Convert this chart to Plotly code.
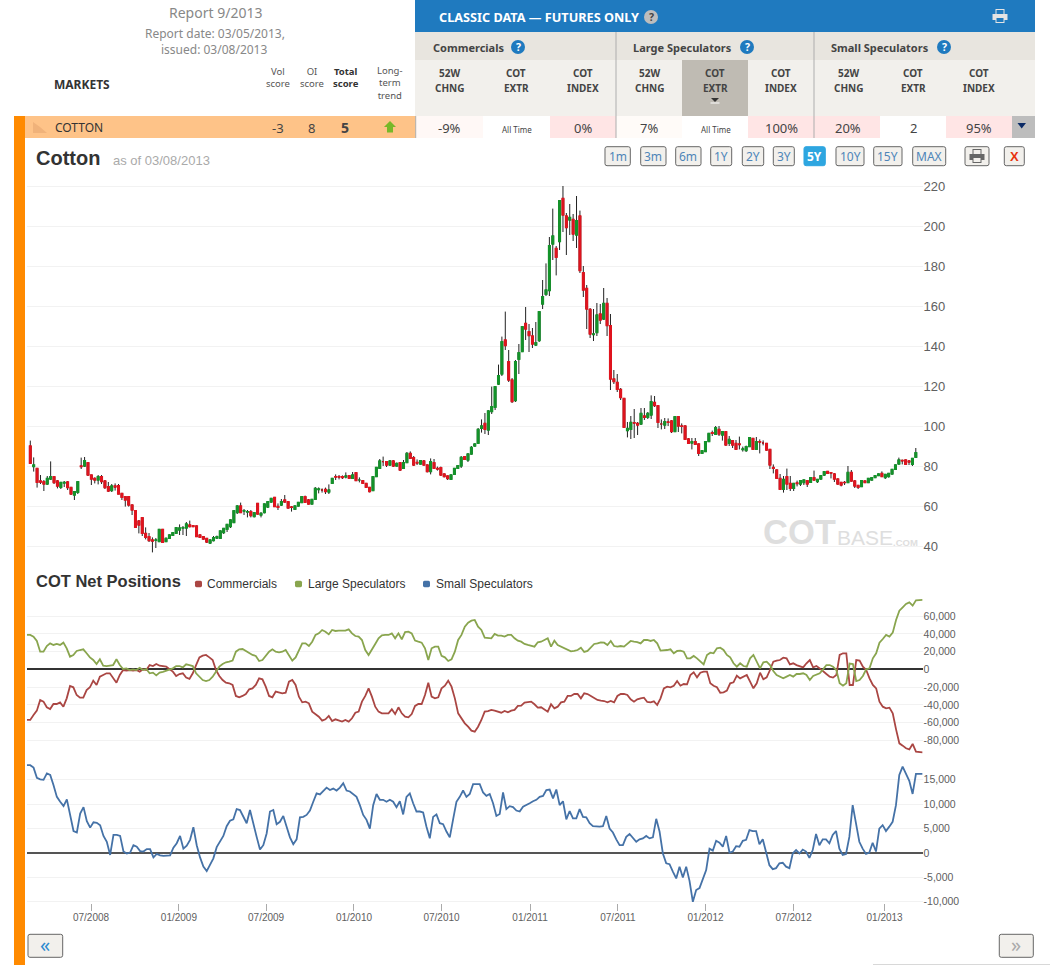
import numpy as np
import plotly.graph_objects as go

W, H = 1050, 965

# weekly price candles (week 0 is the first candle)
OPEN = [90, 79.7, 78.8, 72.5, 72.2, 71, 73.5, 74.7, 72.5, 69.3, 71.5, 72, 69.3, 65.5, 66.8, 80, 80, 81.7, 75.5, 73.8,
        73, 74.7, 72.5, 69.7, 67.7, 70, 70.2, 66.3, 64.7, 64.7, 60.5, 57.7, 52.5, 54.2, 46.3, 44.7, 43, 42.8, 42.2, 48.3,
        42.2, 43.8, 45.3, 46.3, 48, 49, 49, 50.5, 50.2, 50, 45.5, 44.7, 43.8, 41.5, 42.7, 44, 43.8, 46.7, 48.3, 49.7,
        51.7, 56.7, 60, 57.5, 57, 57.2, 54.7, 61.3, 55.5, 56.7, 59.5, 62, 64.3, 59.8, 60.5, 63, 62.2, 59.5, 58.3, 60,
        61.7, 64.7, 63, 61, 63.3, 68.2, 68, 68.3, 67, 71.3, 74.7, 74.7, 74.6, 74.5, 75.2, 73.8, 76.7, 73, 72.7, 71.3,
        69.3, 67.7, 74.7, 78.8, 82.2, 82.2, 80.5, 82.5, 80, 81.7, 78.8, 81.7, 86.3, 84.2, 81.8, 81, 82.5, 80.5, 77.2, 81.7,
        78.8, 79.2, 76, 75, 73.3, 75.8, 78.8, 80, 84.7, 83, 86, 90, 91.3, 98.8, 101.3, 98, 107.2, 109.3, 121, 126,
        143, 132.2, 123, 112.7, 133.3, 137.2, 151.3, 147.2, 145, 140.5, 142.7, 161, 165.8, 167.7, 191, 188.8, 192.2, 213.8, 205, 203,
        203.3, 195.5, 205, 176.7, 168.8, 158.3, 145.7, 146.7, 156, 153.5, 161.3, 150.2, 123.5, 121.8, 118.3, 113.8, 97.7, 98.3, 101.7, 101.3,
        101, 105, 104.3, 105.5, 111.8, 110.2, 101, 100.5, 102, 102.5, 97.2, 104.7, 100, 100, 93.5, 91.5, 92.2, 91, 86.3, 87.2,
        92.2, 96.7, 95.8, 98.3, 95.5, 97.2, 91.3, 92.7, 91.3, 91, 88.2, 87.7, 89.7, 93.8, 88.3, 92.2, 91.5, 91.3, 88.3, 79.3,
        78, 73.8, 68.3, 74.7, 71.3, 68.8, 71.5, 71, 71.7, 72.7, 71.8, 74.2, 72.2, 73.5, 75.5, 77.3, 76.7, 76, 73.5, 71.8,
        71.8, 71.7, 76.8, 72.5, 70.3, 69.7, 72.5, 71.7, 73, 74.2, 75.2, 76.3, 74.2, 74.7, 76, 78.3, 81, 82.8, 83, 82.5,
        80.8, 84.3]
HIGH = [92.7, 84.3, 79, 75.5, 73, 75, 82.3, 75, 73, 72, 72.5, 72.5, 69.5, 67.5, 72.5, 84.2, 84.5, 82, 75.5, 74.3,
        75.5, 75.5, 73, 72, 71, 71.3, 71, 66.5, 65, 65, 60.7, 58, 53, 54.5, 49.3, 46.5, 44.3, 44, 48.5, 48.5,
        44.3, 45.8, 47, 49.5, 50.8, 50, 52, 52.7, 50.5, 50.2, 45.8, 45, 44, 43.3, 45, 45.2, 47.8, 49, 51, 53.3,
        58, 60.3, 61.7, 58.5, 58, 58, 57, 61.5, 57, 61.2, 62.5, 64, 64.5, 61.3, 63.5, 65.5, 62.5, 60, 60.2, 62,
        65, 65.2, 63.5, 63.5, 69.5, 69.3, 68.8, 69.2, 70.8, 74, 75.8, 75.5, 75.3, 76.8, 75.5, 77, 77, 74.3, 73, 71.5,
        69.5, 75, 79.5, 83.5, 84.7, 82.5, 83, 83, 81.7, 82, 83, 87, 87.3, 85, 83.3, 83, 83, 80.7, 83.8, 83.5,
        79.7, 79.7, 76.2, 75.2, 75.8, 79, 80.5, 85, 85, 86.3, 90, 91.3, 99, 103.3, 106.5, 108, 119.7, 120, 130.7, 144.7,
        157.2, 138, 124, 133, 141, 150, 159.5, 151, 149, 152, 157.5, 173, 181.3, 194.5, 208.7, 190, 213, 220, 206.5, 211,
        206, 215, 207.7, 180, 170.5, 159, 158.5, 161.5, 161, 169, 164, 156, 128, 126, 119, 114, 102, 105, 108.5, 102,
        109, 109, 107, 115.3, 115, 110.5, 103.3, 104, 103.8, 103, 105, 105, 101.3, 100.3, 94, 94, 94, 91.2, 87.9, 92.4,
        96.5, 97.7, 100, 100, 97.5, 97.5, 95, 93, 93, 94.7, 89.7, 90.2, 94.5, 94, 94.5, 93.3, 92.8, 91.5, 88.5, 80.8,
        78.2, 76, 75, 78.7, 75, 71.5, 72.7, 72.9, 73.2, 73, 74.4, 77.7, 73.5, 75.4, 77.4, 77.5, 77, 76.5, 73.7, 72,
        72.5, 80, 78, 73, 70.5, 72.9, 72.7, 74, 74.4, 75.4, 76.2, 77.3, 76, 76.5, 78.5, 80.7, 84.2, 83.2, 83.2, 83,
        84, 89]
LOW = [81, 77.2, 69.2, 71, 67.5, 70.5, 73, 71, 68.8, 68.5, 69.5, 68, 65.5, 63, 66, 78.5, 79.5, 75, 70.5, 71.3,
       70.8, 71, 68.5, 67, 67, 67.7, 66, 63, 59.7, 59.7, 55.5, 49, 46.3, 45, 43.3, 42, 36.8, 39, 42, 41.5,
       42, 43.5, 45, 46, 45.5, 45.5, 45, 49.3, 49.5, 44.5, 44, 43.2, 41.5, 41, 42.3, 43.5, 43.5, 46, 47, 49,
       51.5, 56, 56.5, 55.5, 54.3, 54.3, 54.3, 55.8, 54.3, 56.3, 59, 61.7, 59.5, 58, 60, 61.7, 58.8, 57.2, 58, 59.8,
       61.5, 61.5, 60.8, 60.8, 63, 66.3, 66.7, 66, 66, 71, 73, 73.3, 73.5, 73.8, 73.5, 73.5, 72.5, 71.8, 71, 69,
       66.8, 67.5, 74.5, 78.5, 80, 79.5, 80, 79.5, 79.8, 77.5, 78.5, 81.5, 83.5, 80, 80.5, 80.8, 80.3, 76.8, 75.8, 78.5,
       77.7, 75, 74.3, 73, 73, 75.5, 78.5, 79, 83, 82, 85.7, 89.7, 91, 96.7, 96, 95.5, 106, 108, 120.5, 125,
       138, 122, 111.5, 112, 126, 137, 143, 137, 139, 140, 142, 158.5, 165, 165, 183, 175.3, 188, 197, 185.5, 195.5,
       192.5, 189, 176.5, 164.5, 148.5, 144, 142.5, 145, 151, 153, 145, 118, 121, 117, 113, 99, 94.3, 93.5, 94, 95.5,
       100.5, 103, 103.5, 103.5, 109.5, 99, 98.3, 98.5, 100, 96.5, 97, 97, 96.3, 93, 91, 88.3, 90.5, 85, 86, 87,
       92, 95, 95.5, 95, 92.7, 90.2, 90, 89, 88, 88.3, 87.2, 87, 89.5, 88, 88, 86.3, 90.3, 87.7, 78.5, 76.3,
       73.5, 68, 66.7, 68, 67.5, 67.5, 69.8, 70, 70.5, 69.5, 71.5, 72.7, 71.5, 73.2, 75, 76, 73.8, 72, 70.7, 69.8,
       70.5, 71.5, 72.2, 69, 68.5, 69.5, 71.5, 71.5, 72.8, 74, 75, 74.5, 73.5, 74.2, 75.8, 78, 80.8, 80.8, 80.5, 80.5,
       80, 84]
CLOSE = [81.3, 80.5, 71.8, 72, 71, 73.8, 74.7, 71.7, 70, 71.8, 71.8, 69.2, 66, 67.2, 72.2, 79.7, 82.7, 75.5, 73.5, 73,
         74.7, 72.2, 69.2, 67.5, 70, 69.5, 66, 64.3, 63, 60.5, 58, 49.3, 50.5, 46.3, 44.3, 42.7, 42.5, 43, 48.3, 41.8,
         43.8, 45.5, 46.7, 49.2, 49, 49.2, 51, 49.7, 49.7, 44.7, 44.3, 43.5, 42, 43, 44.2, 44.7, 47.5, 48.8, 50.8, 53,
         57.7, 60, 56.7, 57.7, 57.2, 55.2, 56.7, 56, 56.3, 61, 62.2, 63.8, 59.7, 59.3, 62.2, 62, 59, 59.3, 60, 61.8,
         64.7, 61.8, 61, 63.3, 68.8, 68.5, 68, 67.2, 68, 73.8, 74.5, 74.5, 74.2, 75, 73.8, 75.5, 72.7, 73, 71.3, 69.3,
         67.2, 74.7, 79.3, 82.5, 82.2, 80.5, 82.5, 80, 81.3, 78, 81.7, 86.3, 83.8, 80.5, 81.5, 82.7, 80.5, 77.2, 82.2, 78.8,
         78.5, 75.5, 74.7, 73.7, 75.5, 78.8, 80.2, 84.3, 83.3, 86, 89.3, 91, 98.3, 100, 98.3, 107.5, 109.7, 119.7, 125.2, 142.2,
         140.2, 123, 112.2, 132.2, 136.7, 149.7, 148.5, 145.2, 141, 141.7, 157.2, 164.7, 168, 190.2, 195, 184.3, 212.7, 205.5, 199.2, 204.3,
         196, 202.7, 177.7, 168, 158.5, 146, 146, 155.5, 153, 161.3, 150.2, 123.5, 122.2, 118.3, 114.2, 99.3, 98.8, 101.8, 101.5, 100.5,
         106.3, 104.3, 106.3, 112.2, 110.2, 101.8, 101, 102.2, 101.8, 97.2, 104.7, 100, 99.8, 93.3, 91.3, 92.2, 90.8, 86.3, 87.7, 92.2,
         96.3, 96.3, 99.2, 96, 97.2, 90.5, 93.3, 90.5, 88.3, 90.7, 88.5, 89.7, 94.2, 88.3, 92.2, 92, 91.5, 88, 80.5, 78.8,
         73.8, 68.3, 73.3, 71, 68.8, 71.3, 71.2, 72.7, 73, 71, 74.2, 73, 73.3, 75.2, 77.2, 76.3, 76.5, 73.5, 71, 70.5,
         71.7, 76.8, 72.5, 70, 69.3, 72.7, 71.7, 73.8, 74.2, 75.2, 76, 74.7, 75.8, 76.3, 78.3, 80.5, 83, 82.6, 80.8, 82,
         83.8, 86.7]

COMMERCIALS = [-57.1, -57.1, -51.5, -46.6, -34.5, -36.4, -42.8, -44.7, -39.1, -39.1, -37.2, -42.1, -32.7, -18.7, -20.2, -28.9, -31.9, -31.9, -23.3, -20.2,
               -12.7, -17.6, -8.2, -6.3, -4.4, -4.4, -10.1, -15.0, -6.3, -0.7, -1.4, -0.7, -1.4, -0.7, -2.5, 0.1, -0.7, 4.9, 3.8, 6.1,
               4.2, 3.8, 3.1, 0.1, -2.5, -7.4, -5.2, -4.4, -9.3, -10.8, -4.4, 4.9, 13.6, 15.5, 16.3, 13.6, 10.6, -0.7, -7.4, -12.0,
               -15.0, -15.7, -17.6, -30.0, -31.5, -30.0, -27.8, -22.5, -21.4, -17.6, -10.1, -11.2, -19.5, -30.0, -31.5, -25.1, -25.9, -27.0, -26.3, -13.8,
               -12.0, -17.6, -30.8, -37.2, -36.4, -38.3, -47.7, -50.7, -53.4, -57.9, -56.4, -52.6, -58.3, -56.4, -57.9, -59.0, -57.1, -59.0, -55.2, -48.9,
               -47.7, -36.4, -30.0, -21.4, -30.8, -42.1, -47.7, -49.6, -49.6, -49.6, -45.1, -50.4, -42.8, -49.6, -53.4, -54.1, -50.4, -41.3, -39.1, -39.1,
               -28.9, -15.0, -30.8, -32.7, -31.5, -21.4, -18.4, -12.7, -19.5, -32.7, -49.6, -55.2, -60.9, -64.7, -69.2, -70.3, -64.7, -57.1, -47.7, -47.0,
               -45.8, -46.6, -47.7, -48.9, -47.0, -48.5, -46.6, -45.8, -41.3, -40.9, -37.6, -37.2, -36.4, -39.4, -43.2, -42.8,
               -45.1, -47.7, -39.4, -43.9, -42.1, -37.2, -36.4, -30.0, -30.0, -27.8, -27.8, -32.7, -27.0, -27.8, -30.0, -32.7, -34.5, -35.3, -35.7, -37.2,
               -35.7, -37.2, -30.0, -27.8, -27.8, -28.9, -33.8, -36.4, -33.8, -32.7, -31.9, -36.8, -37.2, -36.1, -40.2, -32.7, -21.4, -19.5, -20.2, -18.4,
               -13.1, -18.4, -16.5, -16.9, -6.3, -3.3, -9.0, -3.7, -2.5, -2.5, -15.7, -18.4, -20.2, -26.3, -25.9, -24.0, -15.7, -14.6, -7.1, -10.1,
               -8.2, -6.3, -13.8, -21.4, -15.7, -3.7, -11.2, -9.0, -0.7, 8.7, 9.9, 10.6, 13.2, 12.5, 5.7, 6.9, 4.9, 3.8, 2.3, 6.9,
               10.6, 2.3, 3.8, 1.2, -2.5, -5.2, -8.2, -9.3, -6.3, 16.3, 18.2, 18.2, -17.6, -17.6, 10.6, 9.9, 3.1, -0.7, -10.1, -17.6,
               -21.4, -36.4, -42.1, -43.9, -43.2, -49.6, -67.7, -83.5, -86.1, -89.1, -90.3, -84.2, -92.9, -93.6, -93.6]
LARGE_SPECS = [38.9, 38.9, 37.0, 32.1, 20.0, 20.0, 26.4, 29.4, 27.6, 28.7, 27.6, 30.2, 23.8, 14.4, 16.3, 20.8, 21.9, 22.7, 18.2, 13.6,
               10.6, 6.1, 11.4, 4.2, 3.8, 4.2, 4.9, 11.4, 4.9, 0.5, 1.2, -0.7, 0.1, -0.7, 1.9, -0.7, 0.5, -4.4, -3.7, -6.7,
               -3.7, -2.9, -1.8, 0.1, 1.2, 3.8, 3.8, 2.3, 5.7, 4.9, 3.8, -4.4, -8.2, -12.0, -13.1, -12.0, -8.2, -2.5, 3.1, 6.1,
               8.0, 8.7, 9.9, 20.0, 22.7, 23.0, 20.8, 18.2, 16.3, 15.2, 9.5, 10.6, 15.2, 20.0, 22.7, 20.0, 19.3, 20.0, 21.9, 16.3,
               9.9, 13.6, 21.9, 29.4, 29.4, 26.4, 31.3, 38.9, 40.7, 44.5, 42.6, 39.6, 44.5, 43.4, 43.7, 44.1, 43.7, 45.2, 40.7, 37.7,
               37.0, 33.2, 21.9, 16.3, 21.9, 28.7, 35.1, 38.5, 38.9, 38.9, 40.7, 35.1, 40.7, 34.0, 42.2, 42.6, 40.7, 32.5, 31.3, 30.2,
               23.8, 10.6, 23.8, 25.7, 25.7, 15.2, 13.6, 9.5, 11.4, 20.0, 33.2, 38.9, 48.3, 52.8, 55.0, 55.8, 48.3, 44.5, 35.8, 35.1,
               35.1, 40.0, 38.1, 38.1, 37.0, 38.9, 38.9, 35.1, 32.5, 31.3, 28.7, 27.6, 26.4, 25.7, 30.6, 31.3,
               33.2, 35.1, 25.7, 32.5, 27.6, 25.7, 23.8, 21.9, 20.4, 20.8, 21.9, 24.5, 19.7, 20.8, 24.9, 28.7, 29.4, 30.6, 30.2, 27.6,
               32.1, 26.4, 25.7, 26.4, 25.7, 28.7, 32.1, 31.3, 30.9, 29.4, 33.2, 33.2, 32.1, 33.2, 29.4, 21.2, 21.2, 21.9, 22.7, 18.2,
               20.8, 21.2, 20.0, 12.5, 12.5, 15.2, 12.5, 8.7, 5.7, 16.3, 18.9, 18.2, 23.8, 24.5, 21.9, 16.3, 13.6, 6.9, 3.1, 6.9,
               3.8, 3.1, 12.5, 16.3, 8.7, 1.2, 8.0, 8.7, 4.9, -1.8, -6.3, -8.2, -10.1, -8.2, -6.3, -8.2, -5.2, -5.2, -4.4, -6.3,
               -12.0, -7.4, -5.6, -4.4, 0.1, 4.9, 4.9, 3.1, -0.7, -15.7, -18.4, -15.7, 6.6, 6.1, -13.1, -12.0, -7.4, 0.1, 1.2, 12.5,
               18.2, 30.2, 34.3, 38.9, 37.0, 41.5, 55.8, 66.3, 70.1, 73.9, 75.7, 72.0, 78.0, 78.4, 78.4]
SMALL_SPECS = [18.0, 18.0, 17.5, 15.4, 15.1, 15.0, 16.3, 16.0, 13.9, 11.5, 10.5, 9.6, 11.0, 7.9, 4.5, 4.2, 8.1, 9.4, 6.5, 5.2,
               6.3, 6.2, 5.7, 3.5, 2.3, -0.4, 3.7, 3.7, 3.5, 0.3, -0.1, 0.1, 1.6, 1.3, 0.4, 0.3, 0.8, 0.8, -0.9, -0.2,
               -0.5, -0.6, -0.5, -0.5, 1.1, 2.0, 3.5, 0.9, 1.5, 2.7, 5.3, 1.6, -0.9, -2.8, -3.7, -2.5, -1.1, 1.2, 2.3, 3.5,
               5.5, 6.6, 6.9, 9.0, 8.8, 7.4, 6.1, 8.8, 5.7, 3.3, 0.7, 1.6, 4.0, 8.5, 8.8, 5.9, 6.4, 7.6, 5.4, 3.2,
               1.8, 2.8, 7.3, 7.4, 7.8, 8.7, 10.5, 12.2, 12.0, 12.6, 13.4, 12.9, 13.2, 12.8, 13.4, 14.3, 12.8, 12.6, 12.0, 11.5,
               9.8, 7.8, 6.8, 5.0, 9.8, 12.1, 10.9, 10.9, 10.5, 10.9, 10.5, 9.4, 10.6, 7.9, 11.5, 12.2, 10.2, 8.5, 8.5, 8.3,
               5.4, 3.0, 7.4, 7.9, 6.1, 5.9, 4.4, 3.2, 6.9, 10.5, 11.5, 12.8, 11.5, 12.1, 14.1, 14.1, 14.1, 12.4, 11.7, 12.1,
               10.2, 7.6, 8.0, 12.4, 9.0, 9.6, 9.4, 8.7, 8.5, 9.5, 9.8, 10.2, 10.6, 10.9, 11.5,
               11.7, 12.9, 13.0, 11.2, 13.0, 9.8, 10.6, 6.9, 8.6, 7.1, 7.1, 9.0, 7.4, 7.3, 6.1, 5.5, 5.4, 5.4, 5.5, 7.6,
               5.0, 4.2, 2.8, 1.6, 1.6, 3.3, 3.9, 3.0, 2.3, 2.8, 3.0, 3.5, 3.0, 3.2, 7.0, 4.4, -0.1, -2.1, -2.3, -3.8,
               -5.2, -2.8, -5.0, -2.8, -5.7, -10.0, -7.6, -7.2, -5.5, -3.5, 0.9, 0.5, 2.5, 2.1, 1.3, 3.5, 0.1, 0.3, 1.4, 1.3,
               2.5, 2.7, 4.7, 4.5, 4.5, 1.8, 2.8, -0.1, -2.5, -3.3, -3.1, -2.1, -2.0, -2.8, -3.1, -0.1, 0.6, -0.1, 0.7, 0.3,
               -1.0, 0.6, 3.9, 1.6, 2.8, 2.8, 2.0, 3.7, 4.5, 0.9, -0.4, -0.2, 3.3, 9.8, 6.4, 2.3, 0.9, -0.2, 0.1, 2.1,
               0.3, 5.0, 5.7, 4.5, 5.4, 6.4, 9.8, 16.0, 17.7, 16.2, 14.8, 12.1, 16.2, 16.2, 16.2]

DATE_TICK_WEEKS = [17.9, 43.8, 69.5, 95.4, 121.2, 147.3, 173.2, 199, 225, 251.8]
DATE_TICK_LABELS = ["07/2008", "01/2009", "07/2009", "01/2010", "07/2010", "01/2011", "07/2011", "01/2012", "07/2012", "01/2013"]
PRICE_TICKS = [40, 60, 80, 100, 120, 140, 160, 180, 200, 220]
NET_TICKS = [-80000, -60000, -40000, -20000, 0, 20000, 40000, 60000]
SMALL_TICKS = [-10000, -5000, 0, 5000, 10000, 15000]

SERIES_NAMES = ["Commercials", "Large Speculators", "Small Speculators"]
SERIES_COLORS = ["#AA4643", "#89A54E", "#4572A7"]

RANGE_BUTTONS = ["1m", "3m", "6m", "1Y", "2Y", "3Y", "5Y", "10Y", "15Y", "MAX"]
COLUMN_HEADS = [("52W", "CHNG"), ("COT", "EXTR"), ("COT", "INDEX")] * 3
ROW_VALUES = ["-9%", "All Time", "0%", "7%", "All Time", "100%", "20%", "2", "95%"]
ROW_FILLS = ["#FFF8F6", "#FFFFFF", "#FFE5E5", "#FFFBF8", "#FFFFFF", "#FFE5E5", "#FFE5E5", "#FFFFFF", "#FFE5E5"]

CHART_FONT = "Liberation Sans"
HEAD_FONT = "Noto Sans"


def fx(x):
    return x / W


def fy(y):
    return 1 - y / H


shapes, annotations = [], []


def label(text, x, y, size=12, color="#333333", anchor="center", family=HEAD_FONT):
    annotations.append(dict(text=text, x=fx(x), y=fy(y), xref="paper", yref="paper", showarrow=False,
                            xanchor=anchor, yanchor="middle", borderpad=0,
                            font=dict(size=size, color=color, family=family)))


def rect(x0, y0, x1, y1, fill, line=None):
    shapes.append(dict(type="rect", xref="paper", yref="paper", x0=fx(x0), x1=fx(x1), y0=fy(y0), y1=fy(y1),
                       fillcolor=fill, line=dict(width=1 if line else 0, color=line or fill), layer="below"))


def path(points, fill):
    d = "M" + " L".join(f"{fx(x):.5f},{fy(y):.5f}" for x, y in points) + " Z"
    shapes.append(dict(type="path", path=d, xref="paper", yref="paper", fillcolor=fill, line=dict(width=0), layer="above"))


def round_rect(x0, y0, x1, y1, fill, line, r=2):
    # corners bent with quadratic curves, paper coordinates
    c = [(x0 + r, y0), (x1 - r, y0), (x1, y0), (x1, y0 + r), (x1, y1 - r), (x1, y1), (x1 - r, y1), (x0 + r, y1),
         (x0, y1), (x0, y1 - r), (x0, y0 + r), (x0, y0), (x0 + r, y0)]
    p = [(fx(a), fy(b)) for a, b in c]
    d = (f"M{p[0][0]:.5f},{p[0][1]:.5f} L{p[1][0]:.5f},{p[1][1]:.5f} Q{p[2][0]:.5f},{p[2][1]:.5f} {p[3][0]:.5f},{p[3][1]:.5f} "
         f"L{p[4][0]:.5f},{p[4][1]:.5f} Q{p[5][0]:.5f},{p[5][1]:.5f} {p[6][0]:.5f},{p[6][1]:.5f} "
         f"L{p[7][0]:.5f},{p[7][1]:.5f} Q{p[8][0]:.5f},{p[8][1]:.5f} {p[9][0]:.5f},{p[9][1]:.5f} "
         f"L{p[10][0]:.5f},{p[10][1]:.5f} Q{p[11][0]:.5f},{p[11][1]:.5f} {p[12][0]:.5f},{p[12][1]:.5f} Z")
    shapes.append(dict(type="path", path=d, xref="paper", yref="paper", fillcolor=fill,
                       line=dict(width=1 if line else 0, color=line or fill), layer="above"))


def help_icon(x, y, fill="#1F7ABF", mark="white"):
    shapes.append(dict(type="circle", xref="paper", yref="paper", x0=fx(x - 7), x1=fx(x + 7), y0=fy(y + 7), y1=fy(y - 7),
                       fillcolor=fill, line=dict(width=0), layer="above"))
    label("<b>?</b>", x, y, 10.5, mark)


def printer_icon(x, y, body, paper):
    path([(x - 4.5, y - 7), (x + 4.5, y - 7), (x + 4.5, y - 2), (x - 4.5, y - 2)], body)
    path([(x - 3.5, y - 6), (x + 3.5, y - 6), (x + 3.5, y - 2), (x - 3.5, y - 2)], paper)
    path([(x - 7.5, y - 2), (x + 7.5, y - 2), (x + 7.5, y + 4), (x - 7.5, y + 4)], body)
    path([(x - 4.5, y + 1), (x + 4.5, y + 1), (x + 4.5, y + 7), (x - 4.5, y + 7)], body)
    path([(x - 3.5, y + 2), (x + 3.5, y + 2), (x + 3.5, y + 6), (x - 3.5, y + 6)], paper)


# page header: table strip above the chart
rect(415, 0, 1035, 32, "#1F7ABF")
rect(415, 32, 1035, 60, "#E8E5DF")
rect(415, 60, 1035, 116, "#F2F0EC")
rect(682, 60, 748, 116, "#BFBBB3")
rect(25, 116, 415.7, 138, "#FEC388")
rect(14, 116, 25, H, "#FF8A00")
rect(1012, 116, 1035, 138, "#BDBDBD")
col_left = [416, 483, 550, 616, 682, 748, 814, 880, 946, 1012]
for left, right, fill in zip(col_left, col_left[1:], ROW_FILLS):
    rect(left, 116, right, 138, fill)
for sep in [415.7, 616, 814]:
    rect(sep - 0.5, 32 if sep > 500 else 116, sep + 0.5, 138, "#AEAEAE")
rect(873, 964, W, 965, "#D8D8D8")

label("Report 9/2013", 215, 13, 14, "#888888")
label("Report date: 03/05/2013,", 215, 33, 12, "#888888")
label("issued: 03/08/2013", 214, 49, 12, "#888888")
label("<b>MARKETS</b>", 82, 84, 12, "#333333")
label("Vol<br>score", 278, 77, 9.5, "#555555")
label("OI<br>score", 312, 77, 9.5, "#555555")
label("<b>Total<br>score</b>", 346, 77, 9.5, "#333333")
label("Long-<br>term<br>trend", 390, 83, 9.5, "#555555")
label("COTTON", 54, 128, 12, "#333333", anchor="left")
label("-3", 278, 128, 13, "#444444")
label("8", 311, 128, 13, "#444444")
label("<b>5</b>", 345, 128, 14, "#444444")
path([(390, 121), (396, 127), (393, 127), (393, 132.5), (387, 132.5), (387, 127), (384, 127)], "#78B828")
path([(33, 122), (40, 127), (47, 133), (33, 133)], "#F0B27A")

label("<b>CLASSIC DATA — FUTURES ONLY</b>", 438, 17, 12.7, "white", anchor="left")
help_icon(651, 17, "#BDBDBD", "#444444")
printer_icon(1000, 16, "#E4E4E4", "#1F7ABF")
label("<b>Commercials</b>", 432, 47, 11, "#444444", anchor="left")
help_icon(518, 47)
label("<b>Large Speculators</b>", 632, 47, 11, "#444444", anchor="left")
help_icon(747, 47)
label("<b>Small Speculators</b>", 830, 47, 11, "#444444", anchor="left")
help_icon(944, 47)

col_mid = [449, 516, 583, 649, 715, 781, 848, 913, 979]
for x, (top, bottom), value in zip(col_mid, COLUMN_HEADS, ROW_VALUES):
    label(f"<b>{top}</b>", x, 73, 10, "#444444")
    label(f"<b>{bottom}</b>", x, 88, 10, "#444444")
    if value == "All Time":
        label(value, x + 1, 129, 8, "#444444")
    else:
        label(value, x, 128, 13, "#444444")
path([(711, 98), (719, 98), (715, 102)], "#333333")
path([(710.5, 102.5), (719.5, 102.5), (719.5, 103.5), (710.5, 103.5)], "white")
path([(1017.5, 123), (1026, 123), (1021.7, 128.5)], "#0A2A66")

# chart title row and range buttons
label("<b>Cotton</b>", 35, 158, 20, "#333333", anchor="left", family=CHART_FONT)
label("as of 03/08/2013", 112, 160, 13, "#AAAAAA", anchor="left", family=CHART_FONT)
button_edges = [(605, 630.3), (640.7, 666), (675.7, 701), (710.7, 731.7), (742.3, 763.7), (773.3, 794.3),
                (804, 825.3), (836, 864), (873.7, 902), (912.7, 945.7)]
for text, (x0, x1) in zip(RANGE_BUTTONS, button_edges):
    active = text == "5Y"
    round_rect(x0, 146.7, x1, 165.7, "#2EA6E0" if active else "#F2F0EC", "#2EA6E0" if active else "#666666")
    label(f"<b>{text}</b>" if active else text, (x0 + x1) / 2, 156.5, 12, "white" if active else "#4E85B8")
round_rect(965, 146.7, 989, 165.7, "#F2F0EC", "#666666")
printer_icon(977, 156, "#666666", "#F2F0EC")
round_rect(1004.3, 146.7, 1024.3, 165.7, "#F2F0EC", "#666666")
label("<b>X</b>", 1014.3, 156.5, 13, "#E8320E", family=CHART_FONT)
round_rect(28, 934.3, 62.7, 957.3, "#F2F0EC", "#666666")
label("«", 45, 944.5, 20, "#2E8BD0")
round_rect(999.3, 934.3, 1033.3, 957.3, "#F2F0EC", "#666666")
label("»", 1016, 944.5, 20, "#AAAAAA")

# watermark
label("<b>COT</b>", 762, 532, 34.5, "#DEDEDE", anchor="left", family=CHART_FONT)
label("BASE", 836, 537, 21, "#DEDEDE", anchor="left", family=CHART_FONT)
label("<b>.COM</b>", 892, 542, 9.5, "#DEDEDE", anchor="left", family=CHART_FONT)

# second panel heading with the series key
label("<b>COT Net Positions</b>", 35, 581, 16.5, "#333333", anchor="left", family=CHART_FONT)
for name, color, x0, text_x in zip(SERIES_NAMES, SERIES_COLORS, [195, 295, 423], [206, 307, 435]):
    round_rect(x0, 580.7, x0 + 7, 587.3, color, None, r=1.5)
    label(name, text_x, 584, 12, "#333333", anchor="left", family=CHART_FONT)

weeks = np.arange(len(CLOSE))
body_top = np.maximum(OPEN, CLOSE)
body_bottom = np.minimum(OPEN, CLOSE)
line_x = {name: np.linspace(-1, 263, len(vals)) for name, vals in zip(SERIES_NAMES, [COMMERCIALS, LARGE_SPECS, SMALL_SPECS])}

fig = go.Figure()

# wicks first in black, then the bodies without wicks on top
wick_style = dict(line=dict(color="#222222", width=1), fillcolor="#222222")
fig.add_trace(go.Candlestick(x=weeks, open=OPEN, high=HIGH, low=LOW, close=CLOSE, whiskerwidth=0,
                             increasing=wick_style, decreasing=wick_style, showlegend=False,
                             xaxis="x", yaxis="y", name="Cotton"))
fig.add_trace(go.Candlestick(x=weeks, open=OPEN, high=body_top, low=body_bottom, close=CLOSE, whiskerwidth=0,
                             increasing=dict(line=dict(color="#14932A", width=1.4), fillcolor="#14932A"),
                             decreasing=dict(line=dict(color="#E0141E", width=1.4), fillcolor="#E0141E"),
                             showlegend=False, hoverinfo="skip", xaxis="x", yaxis="y"))
for name, values, color in zip(SERIES_NAMES[:2], [COMMERCIALS, LARGE_SPECS], SERIES_COLORS[:2]):
    fig.add_trace(go.Scatter(x=line_x[name], y=np.array(values) * 1000, mode="lines", name=name,
                             line=dict(color=color, width=1.8), xaxis="x2", yaxis="y2", showlegend=False))
fig.add_trace(go.Scatter(x=line_x[SERIES_NAMES[2]], y=np.array(SMALL_SPECS) * 1000, mode="lines", name=SERIES_NAMES[2],
                         line=dict(color=SERIES_COLORS[2], width=1.8), xaxis="x3", yaxis="y3", showlegend=False))

# the default template turns automargin on, which would shift the pixel layout
x_common = dict(domain=[fx(26.9), fx(922.6)], range=[-1, 263], showgrid=False, zeroline=False, showline=False, automargin=False)
y_common = dict(side="right", gridcolor="#F2F2F2", gridwidth=1, showline=False, ticks="", tickmode="array", automargin=False,
                tickfont=dict(family=CHART_FONT, size=10.5, color="#606060"))

fig.update_layout(
    width=W, height=H, autosize=False,
    margin=dict(l=0, r=0, t=0, b=0),
    paper_bgcolor="white", plot_bgcolor="white",
    showlegend=False, hovermode="closest",
    shapes=shapes, annotations=annotations,
    xaxis=dict(x_common, anchor="y", showticklabels=False, ticks="", rangeslider=dict(visible=False)),
    xaxis2=dict(x_common, anchor="y2", showticklabels=False, ticks=""),
    xaxis3=dict(x_common, anchor="y3", tickmode="array", tickvals=DATE_TICK_WEEKS, ticktext=DATE_TICK_LABELS,
                ticks="outside", ticklen=7, tickcolor="#AAAAAA", tickwidth=1, ticklabelstandoff=-2,
                tickfont=dict(family=CHART_FONT, size=10, color="#606060")),
    yaxis=dict(y_common, domain=[fy(554), fy(184)], range=[36, 221], anchor="x", zeroline=False,
               tickvals=PRICE_TICKS, ticktext=[str(v) for v in PRICE_TICKS],
               tickfont=dict(family=CHART_FONT, size=13, color="#606060")),
    yaxis2=dict(y_common, domain=[fy(756), fy(598)], range=[-97800, 80630], anchor="x2",
                zeroline=True, zerolinecolor="#333333", zerolinewidth=2,
                tickvals=NET_TICKS, ticktext=[f"{v:,}" for v in NET_TICKS]),
    yaxis3=dict(y_common, domain=[fy(903), fy(760)], range=[-10246, 19057], anchor="x3",
                zeroline=True, zerolinecolor="#555555", zerolinewidth=2,
                tickvals=SMALL_TICKS, ticktext=[f"{v:,}" for v in SMALL_TICKS]),
)

fig.write_html("out.html", config={"displayModeBar": False}, post_script="document.body.style.margin='0';")
